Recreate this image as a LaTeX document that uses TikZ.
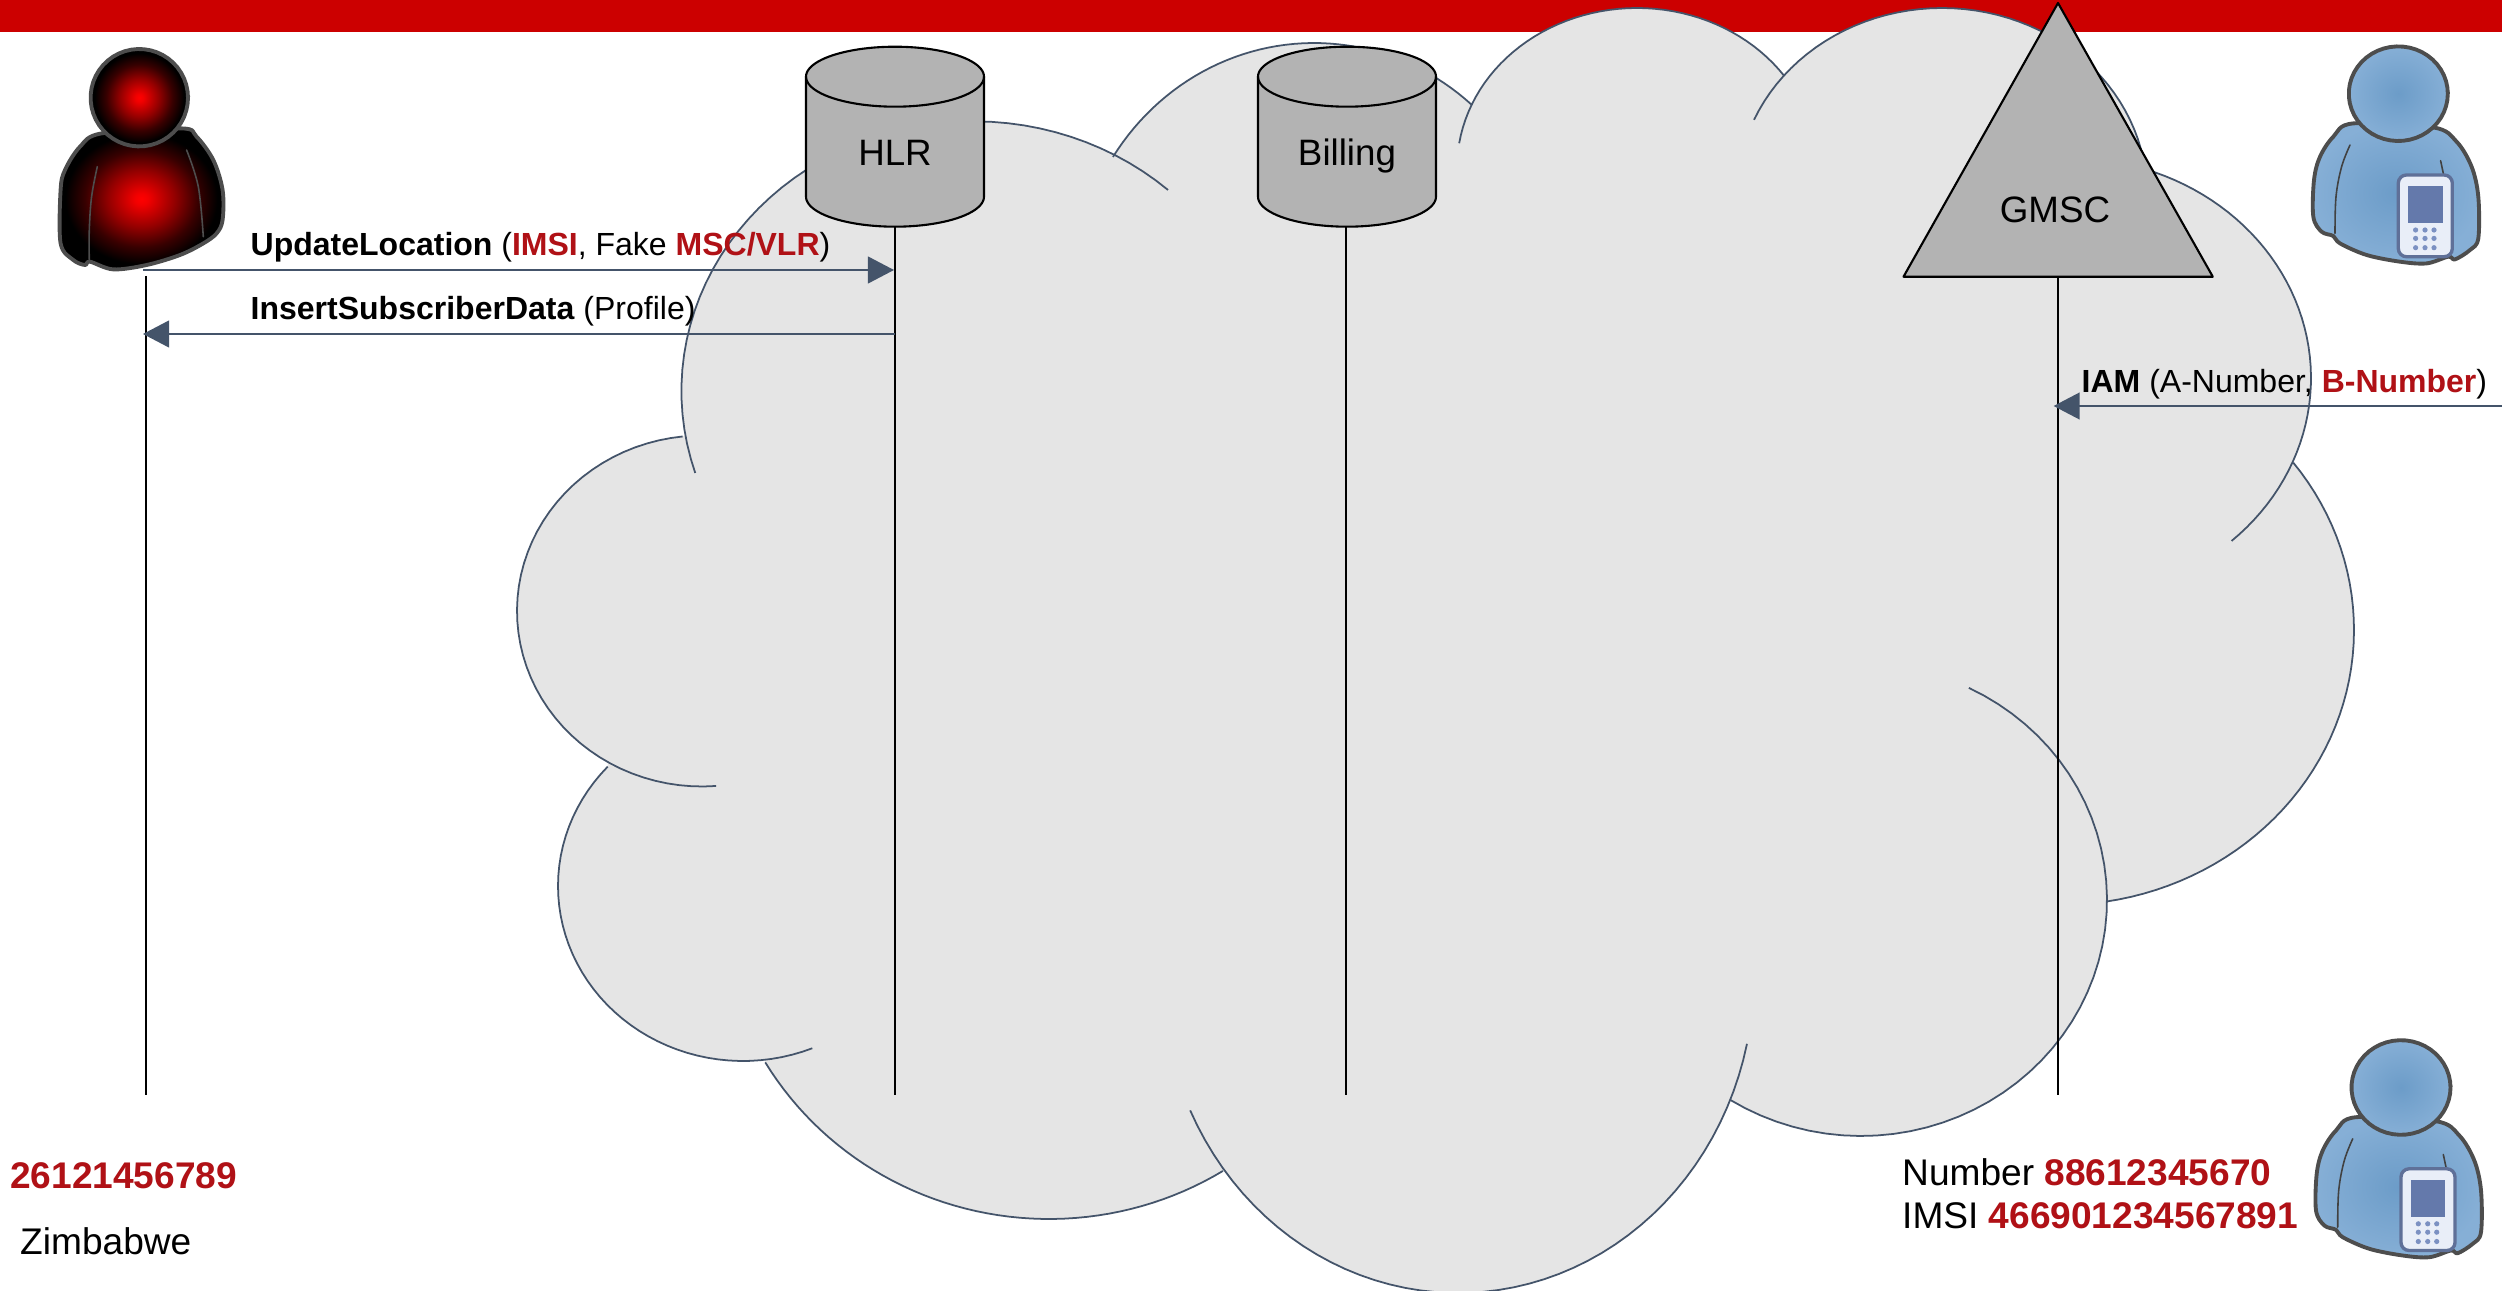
\documentclass[tikz,border=0pt]{standalone}
\usepackage{fontspec}
\setmainfont{Liberation Sans}
\usetikzlibrary{arrows.meta}
\definecolor{barred}{HTML}{CC0000}
\definecolor{cloudgray}{HTML}{E5E5E5}
\definecolor{cloudline}{HTML}{44546A}
\definecolor{shapegray}{HTML}{B3B3B3}
\definecolor{tred}{HTML}{B01116}
\definecolor{persline}{HTML}{4D4D4D}
\definecolor{blueinner}{HTML}{6C9CC8}
\definecolor{blueouter}{HTML}{86AFD6}
\definecolor{phoneframe}{HTML}{5F7098}
\definecolor{phonefill}{HTML}{E9EEF8}
\definecolor{phonescreen}{HTML}{6479AB}
\definecolor{phonedot}{HTML}{7C91C2}
\pgfdeclareradialshading{redball}{\pgfpoint{0bp}{0bp}}{color(0bp)=(red); color(2bp)=(red!95!black); color(10bp)=(red!58!black); color(17bp)=(red!22!black); color(23bp)=(black); color(50bp)=(black)}
\pgfdeclareradialshading{blueball}{\pgfpoint{0bp}{0bp}}{color(0bp)=(blueinner); color(25bp)=(blueouter); color(50bp)=(blueouter)}
\newcommand\lobe[6]{plot[domain=#5:#6,samples=48,variable=\t] ({#1+#3*cos(\t)},{#2+#4*sin(\t)})}
\newcommand\lobeto[6]{-- plot[domain=#5:#6,samples=48,variable=\t] ({#1+#3*cos(\t)},{#2+#4*sin(\t)})}
\newcommand\redbf[1]{\textcolor{tred}{\textbf{#1}}}
\tikzset{
  cloudedge/.style={draw=cloudline,line width=0.5pt},
  lifeline/.style={draw=black,line width=0.6pt},
  msg/.style={draw=cloudline,line width=0.55pt,-{Triangle[length=7.4pt,width=7.6pt,fill=cloudline]}},
  shapeedge/.style={draw=black,line width=0.6pt,line join=round},
  lbl/.style={font=\fontsize{9.1}{11}\selectfont,anchor=base west,inner sep=0pt},
  txt/.style={font=\fontsize{10.55}{12.5}\selectfont,anchor=base west,inner sep=0pt},
  ctxt/.style={font=\fontsize{10.45}{12.5}\selectfont,anchor=base,inner sep=0pt},
  persedge/.style={draw=persline,line width=1.1pt,line join=round},
  fold/.style={draw=persline,line width=0.45pt,line cap=round},
  foldblue/.style={draw=persline!85!black,line width=0.45pt,line cap=round}
}
\newcommand\cylshape[1]{%
  \begin{scope}[shift={(#1,0)}]
    \filldraw[fill=shapegray,shapeedge] \lobe{0}{196.7}{89}{30}{0}{180} \lobeto{0}{76.7}{89}{30}{180}{360} -- cycle;
    \draw[shapeedge] \lobe{0}{76.7}{89}{30}{0}{180};
  \end{scope}}
\newcommand\bluepers[2]{%
  \begin{scope}[shift={(#1,#2)}]
    \shade[shading=blueball] plot[smooth cycle,tension=.55] coordinates {(-45,29.7)(-65,43)(-78.3,63)(-84.3,86.3)(-85,123)(-76.7,138)(-65,142.3)(-58.3,149.7)(-31.7,161.3)(1.7,168)(28.3,169.7)(50,163)(56.7,165.7)(71.7,156.3)(80,144.7)(80,103)(73.3,73)(58.3,48)(35,33.7)};
    \draw[persedge] plot[smooth cycle,tension=.55] coordinates {(-45,29.7)(-65,43)(-78.3,63)(-84.3,86.3)(-85,123)(-76.7,138)(-65,142.3)(-58.3,149.7)(-31.7,161.3)(1.7,168)(28.3,169.7)(50,163)(56.7,165.7)(71.7,156.3)(80,144.7)(80,103)(73.3,73)(58.3,48)(35,33.7)};
    \draw[foldblue] plot[smooth,tension=.6] coordinates {(-48.3,51.3)(-56.7,73)(-62.3,103)(-63.3,139.7)};
    \draw[foldblue] (42.3,67) -- (45,79.7);
    \shade[shading=blueball,draw=persline,line width=1.1pt] \lobe{0}{0}{49.5}{47.3}{0}{360} -- cycle;
    \filldraw[fill=phonefill,draw=phoneframe,line width=0.95pt,rounded corners=2.3pt] (0,81.3) rectangle (54,163);
    \fill[phonescreen] (10,92) rectangle (44.3,129.7);
    \foreach \dy in {136.3,144.7,154}
      \foreach \dx in {17.3,26.7,35.7}
        \fill[phonedot] (\dx,\dy) circle[radius=0.026cm];
  \end{scope}}
\begin{document}
\begin{tikzpicture}[x=0.01cm,y=-0.01cm]
\useasboundingbox (0,0) rectangle (2502,1291);
\clip (0,0) rectangle (2502,1291);
\fill[white] (0,0) rectangle (2502,1291);
\fill[barred] (0,0) rectangle (2502,32);
% cloud
\fill[cloudgray]
  \lobe{973.4}{391}{292}{269.7}{170.6}{298.4}
  \lobeto{1314}{294}{240}{251}{213.1}{311.2}
  \lobeto{1637}{168}{180}{160}{203.5}{324.8}
  \lobeto{1942}{194}{205}{186}{219.6}{352.3}
  \lobeto{2069}{378}{242}{220}{-71.7}{22.4}
  \lobeto{2060}{630}{294}{275}{-37.5}{81}
  \lobeto{1861}{900}{246}{236}{1}{122}
  \lobeto{1458}{975}{296}{318}{22.8}{142.6}
  \lobeto{1049}{899}{330}{320}{58.2}{149.3}
  \lobeto{743}{886}{185}{175}{83.2}{223}
  \lobeto{702}{611}{185}{175.5}{120.6}{264}
  -- cycle;
\draw[cloudedge] \lobe{973.4}{391}{292}{269.7}{162.3}{311.8};
\draw[cloudedge] \lobe{1314}{294}{240}{251}{213.1}{311.2};
\draw[cloudedge] \lobe{1637}{168}{180}{160}{188.9}{324.8};
\draw[cloudedge] \lobe{1942}{194}{205}{186}{203.5}{352.3};
\draw[cloudedge] \lobe{2069}{378}{242}{220}{-71.7}{47.8};
\draw[cloudedge] \lobe{2060}{630}{294}{275}{-37.5}{81};
\draw[cloudedge] \lobe{1861}{900}{246}{236}{-64}{122};
\draw[cloudedge] \lobe{1458}{975}{296}{318}{12.5}{154.8};
\draw[cloudedge] \lobe{1049}{899}{330}{320}{58.2}{149.3};
\draw[cloudedge] \lobe{743}{886}{185}{175}{68}{223};
\draw[cloudedge] \lobe{702}{611}{185}{175.5}{85.6}{264};
% network elements
\cylshape{895}
\cylshape{1347}
\filldraw[fill=shapegray,shapeedge] (2058,3) -- (2212.8,276.7) -- (1903.5,276.7) -- cycle;
\node[ctxt] (hlr) at (895,165.7) {HLR};
\node[ctxt] (billing) at (1347,165.7) {Billing};
\node[ctxt] (gmsc) at (2055,222.7) {GMSC};
% lifeline ends
\coordinate (atop) at (146,276);     \coordinate (abot) at (146,1095);
\coordinate (htop) at (895,226.7);   \coordinate (hbot) at (895,1095);
\coordinate (btop) at (1346,226.7);  \coordinate (bbot) at (1346,1095);
\coordinate (gtop) at (2058,276.7);  \coordinate (gbot) at (2058,1095);
\draw[lifeline] (atop) -- (abot);
\draw[lifeline] (htop) -- (hbot);
\draw[lifeline] (btop) -- (bbot);
\draw[lifeline] (gtop) -- (gbot);
% messages
\coordinate (m1a) at (143,270);  \coordinate (m1b) at (894,270);
\coordinate (m2a) at (895,334);  \coordinate (m2b) at (143,334);
\coordinate (m3a) at (2502,406); \coordinate (m3b) at (2053.6,406);
\draw[msg] (m1a) -- (m1b);
\draw[msg] (m2a) -- (m2b);
\draw[msg] (m3a) -- (m3b);
\node[lbl] (t1) at (250,255) {\textbf{UpdateLocation} (\redbf{IMSI}, Fake \redbf{MSC/VLR})};
\node[lbl] (t2) at (250,319.3) {\textbf{InsertSubscriberData} (Profile)};
\node[lbl] (t3) at (2081,392.7) {\textbf{IAM} (A-Number, \redbf{B-Number})};
\node[txt] (t4) at (9.5,1188.5) {\redbf{26121456789}};
\node[txt] (t5) at (19.5,1254) {Zimbabwe};
\node[txt] (t6) at (1901.5,1185) {Number \redbf{88612345670}};
\node[txt] (t7) at (1901.5,1228) {IMSI \redbf{466901234567891}};
% red subscriber
\begin{scope}[shift={(139.3,97.7)}]
  \shade[shading=redball] plot[smooth cycle,tension=.55] coordinates {(-37.7,35.7)(-59.3,49)(-74.3,72.3)(-78.7,92.3)(-78.7,145.7)(-66,162.3)(-54.3,167.3)(-49.3,164)(-26,171.7)(7.3,167.3)(40.7,157.3)(64,145.7)(77.3,135.7)(83.3,122.3)(83.3,92.3)(74,62.3)(57.3,39)(42.3,30.7)};
  \draw[persedge] plot[smooth cycle,tension=.55] coordinates {(-37.7,35.7)(-59.3,49)(-74.3,72.3)(-78.7,92.3)(-78.7,145.7)(-66,162.3)(-54.3,167.3)(-49.3,164)(-26,171.7)(7.3,167.3)(40.7,157.3)(64,145.7)(77.3,135.7)(83.3,122.3)(83.3,92.3)(74,62.3)(57.3,39)(42.3,30.7)};
  \draw[fold] plot[smooth,tension=.6] coordinates {(-42,69)(-47.7,99)(-50,132.3)(-50,162.3)};
  \draw[fold] plot[smooth,tension=.6] coordinates {(47.3,52.3)(59,89)(64,139)};
  \shade[shading=redball,draw=persline,line width=1.1pt] \lobe{0}{0}{48.7}{48.7}{0}{360} -- cycle;
\end{scope}
% blue subscribers
\bluepers{2398.3}{93.7}
\bluepers{2401}{1087.5}
\end{tikzpicture}
\end{document}
